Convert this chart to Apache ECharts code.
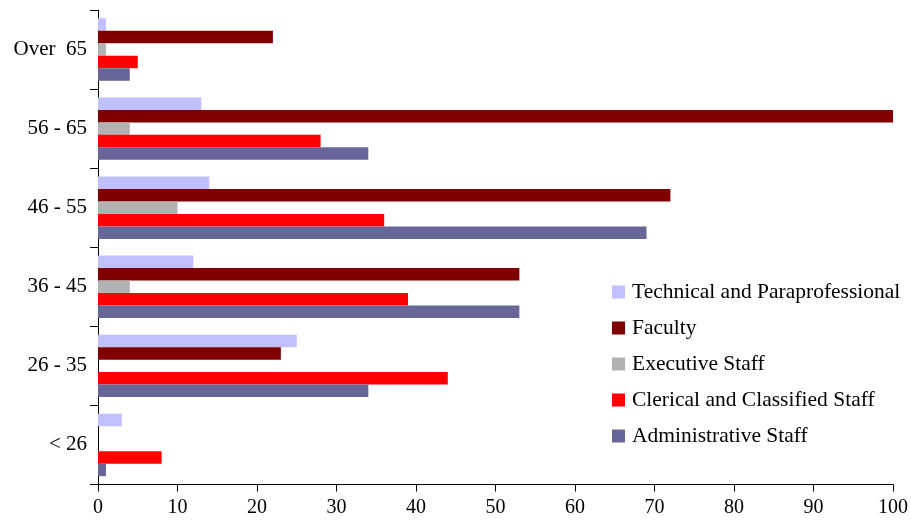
<!DOCTYPE html>
<html><head><meta charset="utf-8">
<script src="https://cdn.jsdelivr.net/npm/echarts@6/dist/echarts.min.js"></script>
<style>html,body{margin:0;padding:0;background:#fff}#c{width:911px;height:524px}</style>
</head><body><div id="c"></div>
<script>
const categories = ['< 26', '26 - 35', '36 - 45', '46 - 55', '56 - 65', 'Over  65'];
const technical = [3, 25, 12, 14, 13, 1];
const faculty = [0, 23, 53, 72, 100, 22];
const executive = [0, 0, 4, 10, 4, 1];
const clerical = [8, 44, 39, 36, 28, 5];
const administrative = [1, 34, 53, 69, 34, 4];
const xTicks = [0, 10, 20, 30, 40, 50, 60, 70, 80, 90, 100];

const font = '"Liberation Serif", "Times New Roman", serif';
const chart = echarts.init(document.getElementById('c'), null, {renderer: 'canvas'});
function s(name, data, color) {
  return {name, type: 'bar', data, itemStyle: {color}, barGap: '0%', barCategoryGap: '21%'};
}
chart.setOption({
  animation: false,
  backgroundColor: '#fff',
  grid: {left: 98, right: 16, top: 10, bottom: 39.5, containLabel: false},
  xAxis: {
    type: 'value', min: xTicks[0], max: xTicks[xTicks.length - 1], interval: 10,
    axisLine: {show: true, lineStyle: {color: '#000', width: 1}},
    axisTick: {show: true, length: 7, lineStyle: {color: '#000'}},
    splitLine: {show: false},
    axisLabel: {color: '#000', fontFamily: font, fontSize: 20, margin: 13}
  },
  yAxis: {
    type: 'category', data: categories,
    axisLine: {show: true, lineStyle: {color: '#000', width: 1}},
    axisTick: {show: true, length: 8, lineStyle: {color: '#000'}},
    axisLabel: {color: '#000', fontFamily: font, fontSize: 21, margin: 11}
  },
  legend: {
    orient: 'vertical', left: 612, top: 281, padding: 0,
    data: ['Technical and Paraprofessional', 'Faculty', 'Executive Staff', 'Clerical and Classified Staff', 'Administrative Staff'],
    itemWidth: 13, itemHeight: 13, itemGap: 14,
    icon: 'rect',
    textStyle: {color: '#000', fontFamily: font, fontSize: 21.5, lineHeight: 22, padding: [0, 0, 0, 2]}
  },
  series: [
    s('Technical and Paraprofessional', technical, '#C0C0FF'),
    s('Faculty', faculty, '#800000'),
    s('Executive Staff', executive, '#B2B2B2'),
    s('Clerical and Classified Staff', clerical, '#FF0000'),
    s('Administrative Staff', administrative, '#666699')
  ]
});
</script></body></html>
